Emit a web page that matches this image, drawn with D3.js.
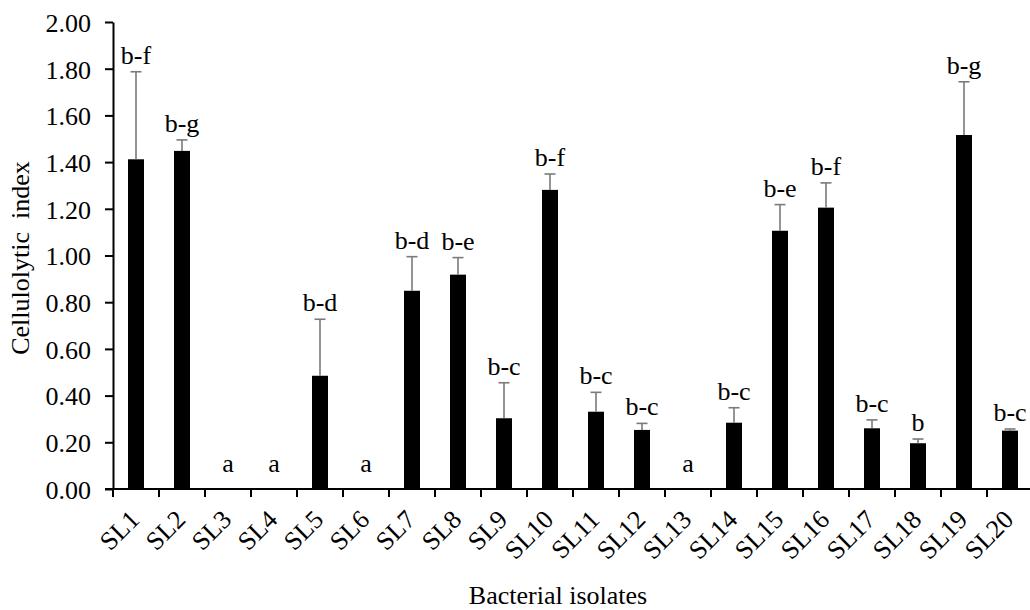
<!DOCTYPE html>
<html>
<head>
<meta charset="utf-8">
<script src="https://cdn.jsdelivr.net/npm/d3@7"></script>
<style>
  html, body { margin: 0; padding: 0; background: #fff; }
  svg { display: block; }
  text { font-family: "Liberation Serif", "Times New Roman", serif; fill: #000; }
</style>
</head>
<body>
<svg id="chart" width="1030" height="610"></svg>
<script>
const categories = ["SL1","SL2","SL3","SL4","SL5","SL6","SL7","SL8","SL9","SL10",
                    "SL11","SL12","SL13","SL14","SL15","SL16","SL17","SL18","SL19","SL20"];
const values = [1.412, 1.448, 0, 0, 0.485, 0, 0.849, 0.918, 0.303, 1.281,
                0.331, 0.253, 0, 0.284, 1.106, 1.205, 0.260, 0.196, 1.516, 0.250];
const errors = [0.375, 0.047, 0, 0, 0.242, 0, 0.146, 0.073, 0.152, 0.068,
                0.083, 0.028, 0, 0.064, 0.112, 0.106, 0.036, 0.018, 0.228, 0.007];
const letters = ["b-f","b-g","a","a","b-d","a","b-d","b-e","b-c","b-f",
                 "b-c","b-c","a","b-c","b-e","b-f","b-c","b","b-g","b-c"];
const yTicks = [0, 0.2, 0.4, 0.6, 0.8, 1.0, 1.2, 1.4, 1.6, 1.8, 2.0];
const xTitle = "Bacterial isolates";
const yTitle = "Cellulolytic  index";

(function () {
const svg = d3.select("#chart");
svg.append("rect").attr("width", 1030).attr("height", 610).attr("fill", "#fff");

const mLeft = 113, mRight = 1033, mTop = 22, mBottom = 489;
const x = d3.scaleBand().domain(categories).range([mLeft, mRight]).paddingInner(0).paddingOuter(0);
const y = d3.scaleLinear().domain([0, 2]).range([mBottom, mTop]);
const bw = x.bandwidth();
const barW = 16;
const fs = 26;
const serif = "'Liberation Serif', 'Times New Roman', serif";

// bars
svg.append("g").selectAll("rect").data(categories).join("rect")
  .attr("x", (c) => x(c) + bw / 2 - barW / 2)
  .attr("y", (c, i) => y(values[i]))
  .attr("width", barW)
  .attr("height", (c, i) => y(0) - y(values[i]))
  .attr("fill", "#000");

// error bars (plus only)
const eg = svg.append("g").attr("stroke", "#7a7a7a").attr("stroke-width", 1.6).attr("fill", "none");
categories.forEach((c, i) => {
  if (errors[i] <= 0) return;
  const cx = x(c) + bw / 2;
  eg.append("line").attr("x1", cx).attr("x2", cx)
    .attr("y1", y(values[i])).attr("y2", y(values[i] + errors[i]));
  eg.append("line").attr("x1", cx - 5.5).attr("x2", cx + 5.5)
    .attr("y1", y(values[i] + errors[i])).attr("y2", y(values[i] + errors[i]));
});

// significance letters
svg.append("g").selectAll("text").data(categories).join("text")
  .attr("x", (c) => x(c) + bw / 2)
  .attr("y", (c, i) => Math.min(y(values[i] + errors[i]) - 8, y(0) - 17))
  .attr("text-anchor", "middle")
  .attr("font-family", serif)
  .attr("font-size", fs)
  .text((c, i) => letters[i]);

// y axis
const yAxis = d3.axisLeft(y).tickValues(yTicks).tickFormat(d3.format(".2f"))
  .tickSize(8).tickSizeOuter(0).tickPadding(14);
const yg = svg.append("g").attr("transform", `translate(${mLeft},0)`).call(yAxis)
  .attr("font-family", serif);
yg.select(".domain").attr("stroke", "#000").attr("stroke-width", 2);
yg.selectAll(".tick line").attr("stroke", "#000").attr("stroke-width", 2);
yg.selectAll(".tick text").attr("font-size", fs)
  .attr("font-family", serif)
  .attr("dy", "0.36em").attr("fill", "#000");

// x axis line + boundary ticks
const xg = svg.append("g");
xg.append("line").attr("x1", mLeft - 8).attr("x2", mRight).attr("y1", mBottom).attr("y2", mBottom)
  .attr("stroke", "#000").attr("stroke-width", 2);
const bounds = categories.map((c) => x(c)).concat([x.range()[1]]);
xg.selectAll("line.tk").data(bounds).join("line").attr("class", "tk")
  .attr("x1", (d) => d).attr("x2", (d) => d)
  .attr("y1", mBottom).attr("y2", mBottom + 8)
  .attr("stroke", "#000").attr("stroke-width", 2);
xg.selectAll("text").data(categories).join("text")
  .attr("text-anchor", "end")
  .attr("font-family", serif)
  .attr("font-size", fs)
  .attr("transform", (c) => `translate(${x(c) + bw / 2 + 5},521) rotate(-45)`)
  .text((c) => c);

// titles
svg.append("text").attr("x", 558).attr("y", 604).attr("text-anchor", "middle")
  .attr("font-family", serif).attr("font-size", fs).text(xTitle);
svg.append("text").attr("transform", "translate(29,258) rotate(-90)")
  .attr("text-anchor", "middle").attr("font-family", serif).attr("font-size", fs)
  .style("white-space", "pre").text(yTitle);
})();
</script>
</body>
</html>
